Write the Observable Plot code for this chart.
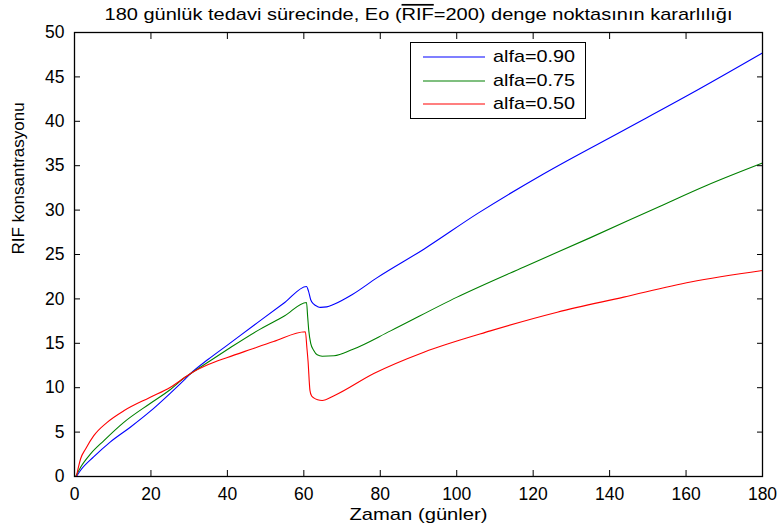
<!DOCTYPE html>
<html>
<head>
<meta charset="utf-8">
<script src="https://cdn.jsdelivr.net/npm/d3@7"></script>
<script src="https://cdn.jsdelivr.net/npm/@observablehq/plot@0.6"></script>
<style>
  html, body { margin: 0; padding: 0; background: #fff; }
  #wrap { position: relative; width: 777px; height: 528px; font-family: "Liberation Sans", Arial, sans-serif; }
  #legend { position: absolute; left: 410px; top: 42px; width: 174px; height: 75px; border: 1.5px solid #000; background: #fff; }
  #legend .row { position: absolute; left: 0; height: 22px; display: flex; align-items: center; }
  #legend svg { display: block; }
</style>
</head>
<body>
<div id="wrap"></div>
<script>
// ---- data ----
const title = ["180 günlük tedavi sürecinde, Eo (", "RIF", "=200) denge noktasının kararlılığı"];
const xLabel = "Zaman (günler)";
const yLabel = "RIF konsantrasyonu";
const xTicks = [0, 20, 40, 60, 80, 100, 120, 140, 160, 180];
const yTicks = [0, 5, 10, 15, 20, 25, 30, 35, 40, 45, 50];
const seriesNames = ["alfa=0.90", "alfa=0.75", "alfa=0.50"];
const seriesColors = ["#0000ff", "#008000", "#ff0000"];

const blueX = [0.5, 1.6, 5.0, 9.4, 14.6, 19.7, 25.1, 29.0, 30.4, 35, 40, 47.8, 55, 60.7, 61.2, 61.8, 62.6, 63.5, 64.4, 66.0, 67.9, 72.7, 79.2, 91.4, 105.4, 122.8, 143.7, 161.2, 180];
const blueY = [0.0, 0.7, 2.2, 3.9, 5.55, 7.3, 9.4, 11.0, 11.6, 13.2, 14.8, 17.3, 19.6, 21.4, 20.9, 19.9, 19.4, 19.15, 19.05, 19.1, 19.4, 20.5, 22.4, 25.6, 29.6, 34.1, 39.0, 43.1, 47.7];

const greenX = [0.3, 1.6, 4.2, 7.7, 12.9, 19.7, 25.1, 29.0, 30.4, 35, 40, 47.8, 55, 60.7, 61.0, 61.3, 61.8, 62.6, 63.5, 64.8, 67.9, 72.7, 82.7, 100.1, 117.6, 135, 152.5, 165.5, 180];
const greenY = [0.0, 1.05, 2.55, 4.05, 6.1, 8.2, 9.8, 11.2, 11.6, 12.9, 14.3, 16.4, 18.1, 19.6, 18.0, 16.4, 15.0, 14.2, 13.7, 13.55, 13.6, 14.3, 16.4, 20.2, 23.6, 26.9, 30.3, 32.8, 35.3];

const redX = [0.5, 1.0, 1.6, 2.9, 5.05, 8.55, 12.9, 19.7, 25.1, 29.0, 30.4, 35, 40, 46, 52.1, 60.4, 60.8, 61.1, 61.6, 62.0, 62.6, 63.6, 64.8, 67.9, 78.3, 91.4, 108.8, 126.3, 143.7, 161.2, 180];
const redY = [0.0, 1.0, 2.0, 3.1, 4.6, 6.1, 7.4, 8.9, 10.06, 11.2, 11.6, 12.6, 13.4, 14.3, 15.2, 16.3, 14.5, 13.0, 9.7, 9.1, 8.86, 8.65, 8.56, 9.1, 11.6, 14.0, 16.4, 18.5, 20.2, 21.9, 23.2];

const seriesX = [blueX, greenX, redX];
const seriesY = [blueY, greenY, redY];

const rows = [];
seriesNames.forEach((name, i) => {
  seriesX[i].forEach((x, j) => rows.push({series: name, x, y: seriesY[i][j]}));
});

const font = "Liberation Sans, Arial, sans-serif";

const chart = Plot.plot({
  width: 777,
  height: 528,
  marginTop: 32,
  marginBottom: 52,
  marginLeft: 74,
  marginRight: 15,
  style: {fontFamily: font, fontSize: "17px", color: "#000", background: "#fff"},
  x: {domain: [0, 180], ticks: xTicks},
  y: {domain: [0, 50], ticks: yTicks},
  color: {domain: seriesNames, range: seriesColors},
  marks: [
    Plot.lineY(rows, {x: "x", y: "y", stroke: "series", strokeWidth: 1.1, curve: "monotone-x"}),
    Plot.frame({stroke: "#000", strokeWidth: 1.3}),
    Plot.axisX({ticks: xTicks, tickSize: 0, tickPadding: 11, label: null, fontSize: 17.5}),
    Plot.axisY({ticks: yTicks, tickSize: 0, tickPadding: 10, label: null, fontSize: 17.5}),
    Plot.axisX({ticks: xTicks, anchor: "bottom", tickSize: -6, text: null, label: null}),
    Plot.axisX({ticks: xTicks, anchor: "top", tickSize: -6, text: null, label: null}),
    Plot.axisY({ticks: yTicks, anchor: "left", tickSize: -6, text: null, label: null}),
    Plot.axisY({ticks: yTicks, anchor: "right", tickSize: -6, text: null, label: null}),
    Plot.text([xLabel], {frameAnchor: "bottom", lineAnchor: "middle", dy: 38, fontSize: 17, fill: "#000", className: "xlab"}),
    Plot.text([yLabel], {frameAnchor: "left", dx: -56, rotate: -90, fontSize: 17, fill: "#000"}),
    Plot.text([title.join("")], {frameAnchor: "top", lineAnchor: "middle", dy: -18, fontSize: 17, fill: "#000", className: "ttl"})
  ]
});

document.getElementById("wrap").appendChild(chart);

// Title with overline on RIF
const ttl = d3.select(chart).select("g.ttl text");
ttl.text(null);
ttl.append("tspan").text(title[0]);
ttl.append("tspan").style("text-decoration", "overline").text(title[1]);
ttl.append("tspan").text(title[2]);
ttl.attr("textLength", 628).attr("lengthAdjust", "spacingAndGlyphs");
d3.select(chart).select("g.xlab text").attr("textLength", 138).attr("lengthAdjust", "spacingAndGlyphs");

// Legend
const legend = document.createElement("div");
legend.id = "legend";
seriesNames.forEach((name, i) => {
  const row = document.createElement("div");
  row.className = "row";
  row.style.top = (3 + i * 23.5) + "px";
  row.innerHTML = `<svg width="80" height="22"><line x1="12" x2="74" y1="11" y2="11" stroke="${seriesColors[i]}" stroke-width="1.1"/></svg>` +
    `<svg width="90" height="22"><text x="2" y="16" font-size="17" font-family="${font}" textLength="82" lengthAdjust="spacingAndGlyphs">${name}</text></svg>`;
  legend.appendChild(row);
});
document.getElementById("wrap").appendChild(legend);
</script>
</body>
</html>
